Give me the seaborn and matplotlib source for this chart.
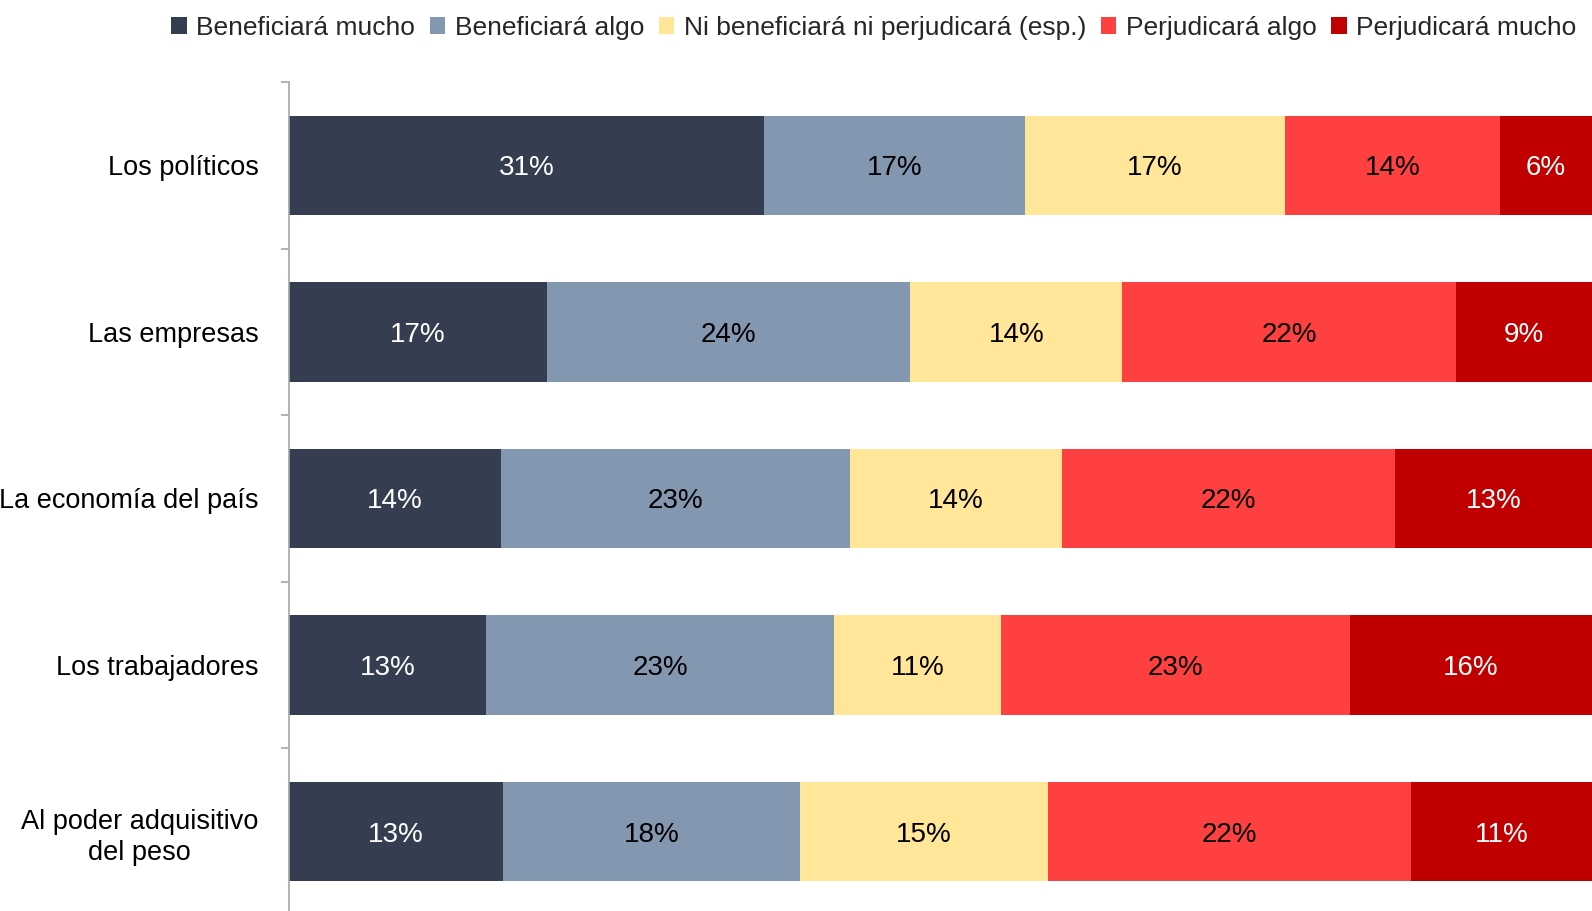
import matplotlib
matplotlib.use("Agg")
import matplotlib.pyplot as plt
import seaborn as sns
import numpy as np
import pandas as pd
from matplotlib.patches import Patch

categories = ["Los políticos", "Las empresas", "La economía del país",
              "Los trabajadores", "Al poder adquisitivo\ndel peso"]
series_names = ["Beneficiará mucho", "Beneficiará algo",
                "Ni beneficiará ni perjudicará (esp.)", "Perjudicará algo",
                "Perjudicará mucho"]
beneficiara_mucho = [31, 17, 14, 13, 13]
beneficiara_algo = [17, 24, 23, 23, 18]
ni_ni = [17, 14, 14, 11, 15]
perjudicara_algo = [14, 22, 22, 23, 22]
perjudicara_mucho = [6, 9, 13, 16, 11]

colors = ["#343E50", "#8497B0", "#FFE699", "#FF4040", "#C00000"]
text_colors = ["white", "black", "black", "black", "white"]

sns.set_theme(style="white")
plt.rcParams["font.family"] = ["Liberation Sans Narrow", "Liberation Sans", "DejaVu Sans"]

raw = np.array([beneficiara_mucho, beneficiara_algo, ni_ni,
                perjudicara_algo, perjudicara_mucho], dtype=float)
share = raw / raw.sum(axis=0) * 100
cum = np.cumsum(share, axis=0)

fig = plt.figure(figsize=(15.92, 9.11), dpi=100)
ax = fig.add_axes([289 / 1592, -3.8 / 911, 1 - 289 / 1592, 832.6 / 911])

for i in range(len(series_names) - 1, -1, -1):
    df = pd.DataFrame({"cat": categories, "val": cum[i]})
    sns.barplot(data=df, x="val", y="cat", order=categories, orient="h",
                color=colors[i], saturation=1, width=0.6, ax=ax,
                linewidth=0, edgecolor="none")

for i in range(len(series_names)):
    for j, cat in enumerate(categories):
        mid = cum[i, j] - share[i, j] / 2
        ax.text(mid, j, f"{int(raw[i, j])}%", ha="center", va="center_baseline",
                fontsize=20, color=text_colors[i])

ax.set_xlim(0, 100)
ax.set_ylim(len(categories) - 0.5, -0.5)
ax.set_xlabel("")
ax.set_ylabel("")
ax.set_xticks([])
for s in ["top", "right", "bottom"]:
    ax.spines[s].set_visible(False)
ax.spines["left"].set_color("#A6A6A6")
ax.spines["left"].set_linewidth(1.2)
ax.tick_params(axis="y", which="major", length=0, pad=22, labelsize=19.5, labelcolor="black")
ax.set_yticks(np.arange(-0.5, len(categories), 1.0), minor=True)
ax.tick_params(axis="y", which="minor", length=6, width=1.2, color="#A6A6A6", left=True)
for lbl in ax.get_yticklabels():
    lbl.set_multialignment("center")
    lbl.set_linespacing(1.25)

handles = [Patch(facecolor=c, edgecolor="none") for c in colors]
fig.legend(handles, series_names, loc="upper right", bbox_to_anchor=(1.0, 1.0),
           ncol=5, frameon=False, fontsize=19, handlelength=0.6, handleheight=0.6,
           handletextpad=0.35, columnspacing=0.55, borderaxespad=0.2)

fig.savefig("out.png", dpi=100)
